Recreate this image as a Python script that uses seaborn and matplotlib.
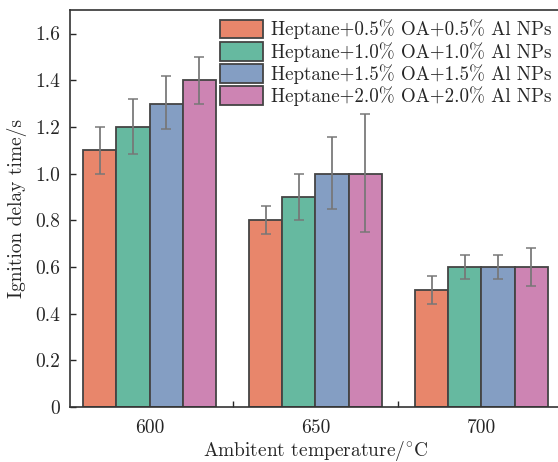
import numpy as np
import pandas as pd
import seaborn as sns
import matplotlib.pyplot as plt
from matplotlib.ticker import FixedLocator, FuncFormatter

temps = ['600', '650', '700']
groups = ['Heptane+0.5% OA+0.5% Al NPs',
          'Heptane+1.0% OA+1.0% Al NPs',
          'Heptane+1.5% OA+1.5% Al NPs',
          'Heptane+2.0% OA+2.0% Al NPs']
# mean ignition delay per group, one entry per temperature
mean_05 = [1.10, 0.80, 0.50]
mean_10 = [1.20, 0.90, 0.60]
mean_15 = [1.30, 1.00, 0.60]
mean_20 = [1.40, 1.00, 0.60]
# error bar low / high ends
low_05 = [1.00, 0.74, 0.44]
high_05 = [1.20, 0.86, 0.56]
low_10 = [1.085, 0.80, 0.55]
high_10 = [1.32, 1.00, 0.65]
low_15 = [1.19, 0.85, 0.55]
high_15 = [1.42, 1.155, 0.65]
low_20 = [1.30, 0.75, 0.52]
high_20 = [1.50, 1.255, 0.68]

means = [mean_05, mean_10, mean_15, mean_20]
lows = [low_05, low_10, low_15, low_20]
highs = [high_05, high_10, high_15, high_20]

rows = []
for g, m, lo, hi in zip(groups, means, lows, highs):
    for t, v, a, b in zip(temps, m, lo, hi):
        rows.append({'temp': t, 'group': g, 'tau': v, 'lo': a, 'hi': b})
df = pd.DataFrame(rows)

sns.set_style('ticks')
plt.rcParams['font.family'] = ['cmr10', 'DejaVu Serif']
plt.rcParams['mathtext.fontset'] = 'cm'
plt.rcParams['axes.formatter.use_mathtext'] = True

pal = ['#e8866b', '#66b9a0', '#849ec3', '#cd84b3']

fig = plt.figure(figsize=(5.58, 4.62), dpi=100)
ax = fig.add_axes([0.1254, 0.119, 0.88, 0.859])

sns.barplot(data=df, x='temp', y='tau', hue='group', order=temps, hue_order=groups,
            palette=pal, errorbar=None, gap=0, width=0.8, saturation=1,
            edgecolor='#444444', linewidth=1.3, ax=ax)

# error bars at each bar centre
for cont, g in zip(ax.containers, groups):
    sub = df[df.group == g].set_index('temp').loc[temps]
    xs = [p.get_x() + p.get_width() / 2 for p in cont.patches]
    yerr = np.array([sub.tau - sub.lo, sub.hi - sub.tau])
    ax.errorbar(xs, sub.tau, yerr=yerr, fmt='none', ecolor='#777777',
                elinewidth=1.4, capsize=3.5, capthick=1.2, alpha=0.9, zorder=5)

ax.set_xlim(-0.48, 2.48)
ax.set_ylim(0, 1.7)
ax.yaxis.set_major_locator(FixedLocator(np.arange(0, 1.61, 0.2)))
ax.yaxis.set_major_formatter(FuncFormatter(lambda v, p: '0' if abs(v) < 1e-9 else f'{v:.1f}'))
ax.tick_params(axis='y', direction='in', length=4, width=1, labelsize=14, pad=7)
ax.tick_params(axis='x', which='major', length=0, labelsize=14, pad=9)
ax.xaxis.set_minor_locator(FixedLocator([0.5, 1.5]))
ax.tick_params(axis='x', which='minor', direction='in', length=4, width=1)
for s in ['left', 'bottom', 'top']:
    ax.spines[s].set_linewidth(1.2)
    ax.spines[s].set_color('#333333')
ax.spines['right'].set_visible(False)

ax.set_xlabel(r'Ambitent temperature/$^{\circ}$C', fontsize=14, labelpad=1)
ax.set_ylabel('Ignition delay time/s', fontsize=14, labelpad=6)

ax.legend(loc='upper right', bbox_to_anchor=(1.0, 1.0), frameon=False, fontsize=13.65,
          handlelength=2.3, handleheight=1.15, labelspacing=0.12, handletextpad=0.4,
          borderaxespad=0.1)

fig.savefig('out.png', dpi=100)
